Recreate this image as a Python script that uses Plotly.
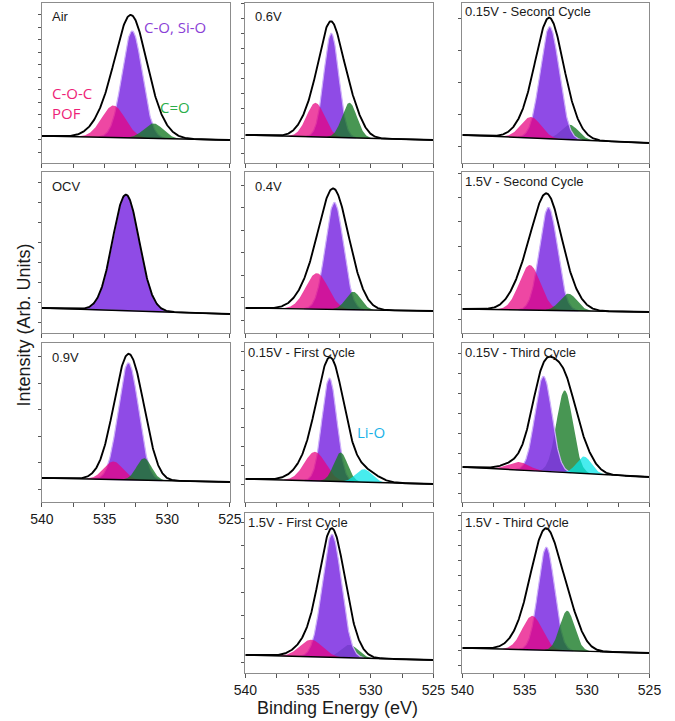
import numpy as np
import plotly.graph_objects as go

# ---------------- data ----------------
LABELS = ["Air", "0.6V", "0.15V - Second Cycle",
          "OCV", "0.4V", "1.5V - Second Cycle",
          "0.9V", "0.15V - First Cycle", "0.15V - Third Cycle",
          "1.5V - First Cycle", "1.5V - Third Cycle"]
ROWS = [0, 0, 0, 1, 1, 1, 2, 2, 2, 3, 3]
COLS = [0, 1, 2, 0, 1, 2, 0, 1, 2, 1, 2]

# background level (arb.) at 540 eV and at 525 eV
BG_START = [27, 28, 28, 25, 25, 24, 24, 23, 35, 18, 25]
BG_END = [23, 23, 20, 19, 22, 21, 20, 18, 25, 13, 20]

# C-O, Si-O component: centre (eV), height, FWHM (eV)
CO_CENTER = [532.8, 533.15, 533.0, 533.3, 532.9, 533.1, 533.1, 533.3, 533.5, 533.1, 533.27]
CO_HEIGHT = [107, 104, 112, 116, 107, 103, 117, 103, 95, 123, 103]
CO_FWHM = [1.9, 1.4, 1.8, 2.5, 1.7, 1.7, 1.9, 1.4, 1.6, 1.8, 1.55]

# C-O-C / POF component
COC_CENTER = [534.3, 534.4, 534.5, None, 534.3, 534.6, 534.3, 534.45, 535.5, 534.75, 534.4]
COC_HEIGHT = [32, 34, 21, None, 36, 45, 18, 29, 8, 17, 34]
COC_FWHM = [2.2, 1.7, 1.9, None, 2.1, 2.0, 1.8, 2.0, 2.0, 2.1, 1.9]

# C=O component
CEO_CENTER = [531.1, 531.7, 531.4, None, 531.4, 531.5, 531.85, 532.4, 531.8, 531.7, 531.6]
CEO_HEIGHT = [15, 35, 15, None, 18, 17, 22, 29, 82, 13, 40]
CEO_FWHM = [1.8, 1.4, 1.6, None, 1.4, 1.6, 1.4, 1.3, 1.55, 1.6, 1.4]

# Li-O component
LIO_CENTER = [None, None, None, None, None, None, None, 530.55, 530.25, None, None]
LIO_HEIGHT = [None, None, None, None, None, None, None, 13, 17, None, None]
LIO_FWHM = [None, None, None, None, None, None, None, 1.5, 1.4, None, None]

# measured envelope: peak height above background and extra breadth (eV)
ENV_PEAK = [123, 116, 121, 116, 121, 117, 126, 124, 115, 129, 122]
ENV_WIDEN = [0.75, 0.6, 0.6, 0.0, 0.75, 0.75, 0.5, 0.9, 0.6, 0.45, 0.9]

X_TICKS = [540, 537.5, 535, 532.5, 530, 527.5, 525]
X_TICK_TEXT = ["540", "", "535", "", "530", "", "525"]

# ---------------- layout / style ----------------
W, H = 675, 721
COL_X = [(31, 226), (242, 437), (467, 661)]
ROW_Y = [(3, 163), (172, 333), (343, 502), (513, 673)]
YTICK0 = [11, 10, 17, 11, 13, 14, 13, 18, 9, 11, 8]
YDTICK = [12.5, 15, 32, 20, 22.5, 24.3, 26.5, 19, 20, 23.3, 15]
GREEN_UNDER = [False, False, True, False, False, False, False, False, True, True, False]
BOTTOM = {(2, 0), (3, 1), (3, 2)}

PURPLE = dict(fill="rgba(128,50,226,0.88)", line="rgba(205,175,250,1)", lw=1.2)
PINK = dict(fill="rgba(232,0,128,0.72)", line="rgba(232,0,128,0)", lw=0)
GREEN = dict(fill="rgba(20,120,35,0.78)", line="rgba(20,120,35,0)", lw=0)
CYAN = dict(fill="rgba(0,228,232,0.72)", line="rgba(0,228,232,0)", lw=0)

FONT = "Liberation Sans, Arial, sans-serif"
LABEL_FONT = "Open Sans, Noto Sans, sans-serif"


def px_x(x):
    return x / W


def px_y(y):
    return 1 - y / H


def gauss(x, c, h, w):
    s = w / 2.3548
    return h * np.exp(-0.5 * ((x - c) / s) ** 2)


grid = np.linspace(540, 525, 401)
fig = go.Figure()
annotations = []

for i, lab in enumerate(LABELS):
    k = i + 1
    xa = "x" if k == 1 else f"x{k}"
    ya = "y" if k == 1 else f"y{k}"
    r, c = ROWS[i], COLS[i]
    bg = BG_START[i] + (BG_END[i] - BG_START[i]) * (540 - grid) / 15.0

    comps = {}
    wide = np.zeros_like(grid)
    for name, C, Hh, F in [("co", CO_CENTER, CO_HEIGHT, CO_FWHM),
                           ("coc", COC_CENTER, COC_HEIGHT, COC_FWHM),
                           ("ceo", CEO_CENTER, CEO_HEIGHT, CEO_FWHM),
                           ("lio", LIO_CENTER, LIO_HEIGHT, LIO_FWHM)]:
        if C[i] is not None:
            comps[name] = gauss(grid, C[i], Hh[i], F[i])
            wide = wide + gauss(grid, C[i], Hh[i], F[i] + ENV_WIDEN[i])

    order = ["ceo", "co", "coc", "lio"] if GREEN_UNDER[i] else ["co", "coc", "ceo", "lio"]
    styles = {"co": PURPLE, "coc": PINK, "ceo": GREEN, "lio": CYAN}
    for name in order:
        if name not in comps:
            continue
        g = comps[name]
        m = g > 0.4
        gx = grid[m]
        top = (bg + g)[m]
        base = bg[m]
        st = styles[name]
        fig.add_trace(go.Scatter(
            x=np.concatenate([gx, gx[::-1]]),
            y=np.concatenate([top, base[::-1]]),
            fill="toself", fillcolor=st["fill"], mode="lines",
            line=dict(color=st["line"], width=st["lw"]),
            xaxis=xa, yaxis=ya, hoverinfo="skip"))

    envelope = bg + wide * (ENV_PEAK[i] / wide.max())
    fig.add_trace(go.Scatter(x=grid, y=bg, mode="lines",
                             line=dict(color="black", width=1.4),
                             xaxis=xa, yaxis=ya, hoverinfo="skip"))
    fig.add_trace(go.Scatter(x=grid, y=envelope, mode="lines",
                             line=dict(color="black", width=1.9),
                             xaxis=xa, yaxis=ya, hoverinfo="skip"))

    x0, x1 = COL_X[c]
    y0, y1 = ROW_Y[r]
    bottom = (r, c) in BOTTOM
    fig.layout[f"xaxis{'' if k == 1 else k}"] = dict(
        domain=[px_x(x0), px_x(x1)], range=[540, 525], anchor=ya,
        showline=True, mirror=True, linecolor="#8c8c8c", linewidth=1,
        showgrid=False, zeroline=False,
        tickmode="array", tickvals=X_TICKS, ticktext=X_TICK_TEXT,
        ticks="outside", ticklen=4, tickcolor="#555",
        showticklabels=bottom,
        tickfont=dict(family=FONT, size=14, color="#1a1a1a"))
    fig.layout[f"yaxis{'' if k == 1 else k}"] = dict(
        domain=[px_y(y1), px_y(y0)], range=[0, y1 - y0], anchor=xa,
        showline=True, mirror=True, linecolor="#8c8c8c", linewidth=1,
        showgrid=False, zeroline=False, showticklabels=False,
        tick0=YTICK0[i], dtick=YDTICK[i], ticks="outside", ticklen=3,
        tickcolor="#555")

    short = len(lab) <= 4
    annotations.append(dict(
        text=lab, xref="paper", yref="paper",
        x=px_x(x0 + (8 if short else 1)), y=px_y(y0 + (14 if short else 9)),
        xanchor="left", yanchor="middle", showarrow=False,
        font=dict(family=FONT, size=13, color="#1a1a1a")))

# component labels
for txt, x, y, col, anchor in [
        ("C-O, Si-O", 169, 27, "#8a3fd6", "center"),
        ("C-O-C", 39, 93, "#ee1f78", "left"),
        ("POF", 39, 113, "#ee1f78", "left"),
        ("C=O", 169, 107, "#2aae49", "center"),
        ("Li-O", 372, 432, "#1ab2e8", "center")]:
    annotations.append(dict(
        text=txt, xref="paper", yref="paper", x=px_x(x), y=px_y(y),
        xanchor=anchor, yanchor="middle", showarrow=False,
        font=dict(family=LABEL_FONT, size=15, color=col)))

annotations.append(dict(
    text="Binding Energy (eV)", xref="paper", yref="paper",
    x=px_x(337), y=px_y(708), xanchor="center", yanchor="middle",
    showarrow=False, font=dict(family=FONT, size=18, color="#1a1a1a")))
annotations.append(dict(
    text="Intensity (Arb. Units)", xref="paper", yref="paper",
    x=px_x(12), y=px_y(325), xanchor="center", yanchor="middle",
    textangle=-90, showarrow=False,
    font=dict(family=FONT, size=18, color="#1a1a1a")))

fig.update_layout(width=W, height=H, margin=dict(l=0, r=0, t=0, b=0),
                  showlegend=False, plot_bgcolor="white",
                  paper_bgcolor="white", annotations=annotations)

fig.write_html("out.html", config={"displayModeBar": False},
               post_script="document.body.style.margin='0';"
                           "document.body.style.overflow='hidden';")
